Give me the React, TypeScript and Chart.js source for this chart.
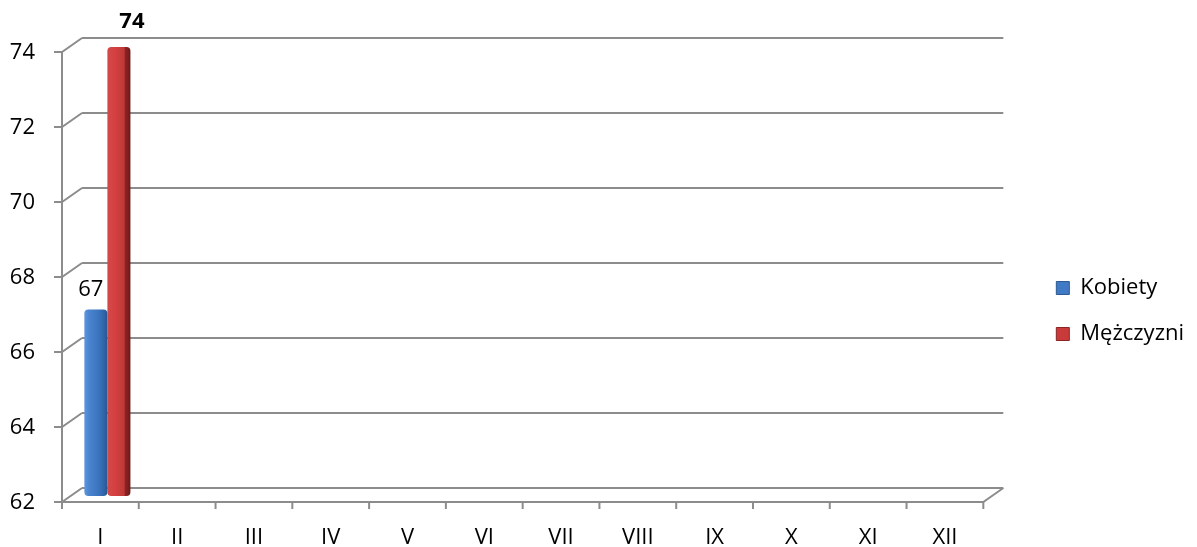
import React, { useEffect, useRef } from 'react';
import { Chart, registerables } from 'chart.js';

Chart.register(...registerables);

// ---- data ----
const categories = ['I', 'II', 'III', 'IV', 'V', 'VI', 'VII', 'VIII', 'IX', 'X', 'XI', 'XII'];
const kobiety: (number | null)[] = [67, null, null, null, null, null, null, null, null, null, null, null];
const mezczyzni: (number | null)[] = [74, null, null, null, null, null, null, null, null, null, null, null];
const seriesNames = ['Kobiety', 'Mężczyzni'];
const yMin = 62;
const yMax = 74;
const yStep = 2;

// ---- style ----
const FONT = "'Open Sans', 'DejaVu Sans', sans-serif";
const GRID = '#8c8c8c';
const FRONT_DX = -20; // front plane relative to back wall
const FRONT_DY = 14;
const BAR_DX = -13; // bars sit in middle depth
const BAR_DY = 9;
const CAT_PCT = 0.6;
const seriesSolid = ['#4079c4', '#c93b3b'];
const seriesStroke = ['#2c5a96', '#8a2424'];
const labelDx = [-5, 13];
const labelDy = [-20, -25];
const labelBold = [false, true];

const gradStops = [
  [
    [0, '#5e97dc'],
    [0.2, '#4a84cf'],
    [0.6, '#3c75bf'],
    [0.85, '#3064aa'],
    [1, '#285590'],
  ],
  [
    [0, '#d24a4a'],
    [0.3, '#d54141'],
    [0.72, '#c03838'],
    [0.78, '#8e2323'],
    [1, '#6c1919'],
  ],
];

function barFill(ctx: any) {
  const chart = ctx.chart;
  const ds = ctx.datasetIndex;
  const xs = chart.scales?.x;
  if (!xs || ctx.dataIndex === undefined || !chart.chartArea) return seriesSolid[ds];
  const catW = (xs.right - xs.left) / categories.length;
  const bw = (catW * CAT_PCT) / 2;
  const center = xs.getPixelForValue(ctx.dataIndex);
  const x0 = center - bw + ds * bw;
  const g = chart.ctx.createLinearGradient(x0, 0, x0 + bw, 0);
  for (const [o, c] of gradStops[ds]) g.addColorStop(o as number, c as string);
  return g;
}

const frame3d = {
  id: 'frame3d',
  beforeDatasetsDraw(chart: any) {
    const { ctx, chartArea } = chart;
    const ys = chart.scales.y;
    const xs = chart.scales.x;
    const fx = chartArea.left + FRONT_DX;
    ctx.save();
    ctx.strokeStyle = GRID;
    ctx.lineWidth = 2;
    ctx.lineCap = 'butt';
    // front vertical axis
    const yTop = ys.getPixelForValue(yMax) + FRONT_DY;
    const yBot = ys.getPixelForValue(yMin) + FRONT_DY;
    ctx.beginPath();
    ctx.moveTo(fx, yTop);
    ctx.lineTo(fx, yBot + 7);
    ctx.stroke();
    // ticks and diagonals
    for (let v = yMin; v <= yMax; v += yStep) {
      const yb = ys.getPixelForValue(v);
      ctx.beginPath();
      ctx.moveTo(fx - 8, yb + FRONT_DY);
      ctx.lineTo(fx, yb + FRONT_DY);
      ctx.lineTo(chartArea.left, yb);
      ctx.stroke();
    }
    // front floor line
    const fxr = chartArea.right + FRONT_DX;
    ctx.beginPath();
    ctx.moveTo(fx, yBot);
    ctx.lineTo(fxr, yBot);
    ctx.lineTo(chartArea.right, ys.getPixelForValue(yMin));
    ctx.stroke();
    // x ticks
    const catW = (xs.right - xs.left) / categories.length;
    for (let k = 1; k <= categories.length; k++) {
      const x = xs.left + k * catW + FRONT_DX;
      ctx.beginPath();
      ctx.moveTo(x, yBot);
      ctx.lineTo(x, yBot + 7);
      ctx.stroke();
    }
    ctx.restore();
    ctx.save();
    ctx.translate(BAR_DX, BAR_DY);
  },
  afterDatasetsDraw(chart: any) {
    const { ctx } = chart;
    ctx.restore();
    ctx.save();
    ctx.fillStyle = '#000';
    ctx.textAlign = 'center';
    ctx.textBaseline = 'middle';
    chart.data.datasets.forEach((ds: any, di: number) => {
      const meta = chart.getDatasetMeta(di);
      meta.data.forEach((el: any, i: number) => {
        const v = ds.data[i];
        if (v === null || v === undefined) return;
        const { x, y } = el.getProps(['x', 'y'], true);
        ctx.font = `${labelBold[di] ? 'bold ' : ''}22px ${FONT}`;
        ctx.fillText(String(v), x + BAR_DX + labelDx[di], y + BAR_DY + labelDy[di]);
      });
    });
    ctx.restore();
  },
};

export default function App() {
  const ref = useRef<HTMLCanvasElement | null>(null);
  useEffect(() => {
    if (!ref.current) return;
    const chart = new Chart(ref.current, {
      type: 'bar',
      data: {
        labels: categories,
        datasets: [
          {
            label: seriesNames[0],
            data: kobiety,
            base: yMin,
            backgroundColor: barFill,
            borderWidth: 0,
            borderSkipped: false,
            borderRadius: 4,
          } as any,
          {
            label: seriesNames[1],
            data: mezczyzni,
            base: yMin,
            backgroundColor: barFill,
            borderWidth: 0,
            borderSkipped: false,
            borderRadius: 4,
          } as any,
        ],
      },
      options: {
        responsive: false,
        animation: false,
        layout: { padding: { top: 38, left: 0, right: 3, bottom: 0 } },
        datasets: { bar: { categoryPercentage: CAT_PCT, barPercentage: 1 } },
        plugins: {
          tooltip: { enabled: false },
          legend: {
            position: 'right',
            title: { display: true, text: '', font: { size: 1, lineHeight: 1 }, padding: { top: 36, bottom: 0 } },
            labels: {
              boxWidth: 13,
              boxHeight: 13,
              padding: 24,
              color: '#000',
              font: { family: FONT, size: 22 },
              generateLabels: () =>
                seriesNames.map((n, i) => ({
                  text: n,
                  fillStyle: seriesSolid[i],
                  strokeStyle: seriesStroke[i],
                  lineWidth: 1,
                  hidden: false,
                  datasetIndex: i,
                  fontColor: '#000',
                })),
            },
          },
        },
        scales: {
          x: {
            grid: { display: false, drawTicks: false },
            border: { display: false },
            ticks: {
              color: '#000',
              font: { family: FONT, size: 22 },
              padding: 37,
              labelOffset: FRONT_DX,
              maxRotation: 0,
              autoSkip: false,
            },
            afterFit: (s: any) => {
              s.height = 59;
            },
          },
          y: {
            min: yMin,
            max: yMax,
            grid: { color: GRID, lineWidth: 2, drawTicks: true, tickLength: 47, tickColor: 'rgba(0,0,0,0)' },
            border: { display: false },
            ticks: {
              stepSize: yStep,
              color: '#000',
              font: { family: FONT, size: 22 },
              padding: 0,
              labelOffset: FRONT_DY + 1,
            },
            afterFit: (s: any) => {
              s.width = 82;
            },
          },
          y2: {
            position: 'right',
            grid: { display: false, drawTicks: false },
            border: { display: false },
            ticks: { display: false },
            afterFit: (s: any) => {
              s.width = 29;
            },
          },
        },
      } as any,
      plugins: [frame3d],
    });
    return () => chart.destroy();
  }, []);
  return (
    <div style={{ position: 'absolute', left: 0, top: 0, width: 1197, height: 547, background: '#fff' }}>
      <canvas ref={ref} width={1197} height={547} style={{ display: 'block' }} />
    </div>
  );
}
